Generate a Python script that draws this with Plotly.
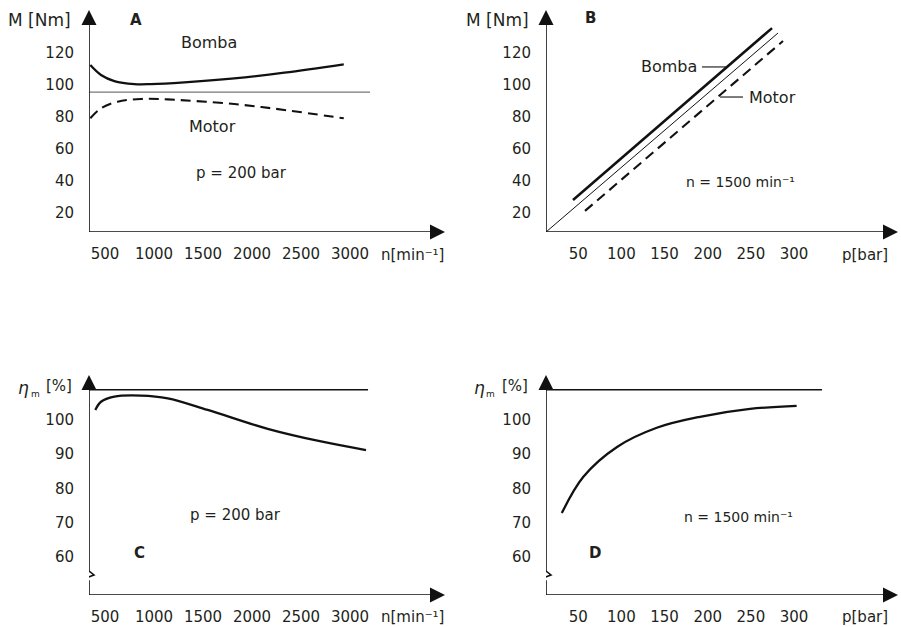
import plotly.graph_objects as go

W, H = 901, 627
FONT = "DejaVu Sans"
TXT = "#231f20"

# ---------------- data ----------------
# Panel A: torque vs speed at p = 200 bar
nA_bomba = [350, 459, 595, 799, 969, 1309, 1819, 2330, 2936]
mA_bomba = [112.5, 106.3, 102.5, 100.6, 100.6, 101.7, 104.2, 107.7, 112.9]
nA_motor = [350, 459, 629, 867, 1140, 1819, 2330, 2936]
mA_motor = [79.2, 85.4, 89.6, 91.3, 91.0, 88.1, 84.4, 79.2]
nA_ref = [337, 3204]
mA_ref = [95.6, 95.6]

# Panel B: torque vs pressure at n = 1500 min-1
pB_ideal = [12.7, 281.4]
mB_ideal = [8.1, 132.5]
pB_bomba = [44.0, 274.5]
mB_bomba = [28.1, 135.6]
pB_motor = [57.9, 287.2]
mB_motor = [21.3, 127.5]

# Panel C: mechanical efficiency vs speed at p = 200 bar
nC = [401, 459, 595, 867, 1140, 1548, 2160, 2704, 3163]
etaC = [102.9, 105.3, 106.8, 107.1, 106.3, 102.9, 97.4, 93.7, 91.2]
nC_ref = [337, 3184]
etaC_ref = [108.8, 108.8]

# Panel D: mechanical efficiency vs pressure at n = 1500 min-1
pD = [31, 56, 95, 141, 191, 249, 303]
etaD = [72.8, 83.4, 92.1, 97.7, 100.9, 103.2, 104.1]
pD_ref = [12.7, 332.4]
etaD_ref = [108.8, 108.8]

n_ticks = [500, 1000, 1500, 2000, 2500, 3000]
p_ticks = [50, 100, 150, 200, 250, 300]
M_ticks = [20, 40, 60, 80, 100, 120]
eta_ticks = [60, 70, 80, 90, 100]

# axis ranges (schematic axes)
n_range = [336.7, 3969]
p_range = [12.7, 420.4]
M_range = [8.125, 146.9]
eta_range = [48.9, 113.1]

fig = go.Figure()
AX = "#111"

def line(x, y, xa, ya, width=2.2, dash="solid", color="#111", shape="spline"):
    fig.add_trace(go.Scatter(x=x, y=y, xaxis=xa, yaxis=ya, mode="lines",
                             line=dict(color=color, width=width, dash=dash, shape=shape,
                                       smoothing=1.0),
                             showlegend=False, hoverinfo="skip"))

# A
line(nA_ref, mA_ref, "x", "y", width=1.2, color="#777", shape="linear")
line(nA_bomba, mA_bomba, "x", "y", width=2.3)
line(nA_motor, mA_motor, "x", "y", width=2.1, dash="10px,6px")
# B
line(pB_ideal, mB_ideal, "x2", "y2", width=1.0, shape="linear")
line(pB_bomba, mB_bomba, "x2", "y2", width=2.5, shape="linear")
line(pB_motor, mB_motor, "x2", "y2", width=2.1, dash="10px,6px", shape="linear")
# C
line(nC_ref, etaC_ref, "x3", "y3", width=1.3, shape="linear")
line(nC, etaC, "x3", "y3", width=2.3)
# D
line(pD_ref, etaD_ref, "x4", "y4", width=1.3, shape="linear")
line(pD, etaD, "x4", "y4", width=2.3)

# arrowheads of the axes (tips sit at the range ends)
def heads(xa, ya, xr, yr):
    fig.add_trace(go.Scatter(x=[xr[0], xr[1]], y=[yr[1], yr[0]], xaxis=xa, yaxis=ya,
                             mode="markers", cliponaxis=False,
                             marker=dict(symbol=["arrow-up", "arrow-right"], size=15,
                                         color=AX, line=dict(width=0)),
                             showlegend=False, hoverinfo="skip"))

heads("x", "y", n_range, M_range)
heads("x2", "y2", p_range, M_range)
heads("x3", "y3", n_range, eta_range)
heads("x4", "y4", p_range, eta_range)

tickfont = dict(family=FONT, size=15, color=TXT)

def xax(dom, rng, anchor, ticks):
    return dict(domain=dom, range=rng, anchor=anchor, tickvals=ticks,
                ticktext=[str(t) for t in ticks], showline=False, showgrid=False,
                zeroline=False, ticks="", tickfont=tickfont, ticklabelstandoff=11)

def yax(dom, rng, anchor, ticks):
    return dict(domain=dom, range=rng, anchor=anchor, tickvals=ticks,
                ticktext=[str(t) for t in ticks], showline=False, showgrid=False,
                zeroline=False, ticks="", tickfont=tickfont, ticklabelstandoff=14)

left_dom = [89 / W, 445 / W]
right_dom = [546 / W, 898 / W]
top_dom = [1 - 232 / H, 1 - 10 / H]
bot_dom = [1 - 595 / H, 1 - 375 / H]

fig.update_layout(
    width=W, height=H, margin=dict(l=0, r=0, t=0, b=0),
    paper_bgcolor="white", plot_bgcolor="white",
    xaxis=xax(left_dom, n_range, "y", n_ticks),
    yaxis=yax(top_dom, M_range, "x", M_ticks),
    xaxis2=xax(right_dom, p_range, "y2", p_ticks),
    yaxis2=yax(top_dom, M_range, "x2", M_ticks),
    xaxis3=xax(left_dom, n_range, "y3", n_ticks),
    yaxis3=yax(bot_dom, eta_range, "x3", eta_ticks),
    xaxis4=xax(right_dom, p_range, "y4", p_ticks),
    yaxis4=yax(bot_dom, eta_range, "x4", eta_ticks),
)

shapes = []
def seg(xr, yr, x0, y0, x1, y1, w=1.6, color=AX):
    shapes.append(dict(type="line", xref=xr, yref=yr, x0=x0, y0=y0, x1=x1, y1=y1,
                       line=dict(color=color, width=w)))

# axis lines
seg("x", "y", n_range[0], M_range[0], n_range[0], M_range[1] - 5)
seg("x", "y", n_range[0], M_range[0], n_range[1] - 100, M_range[0])
seg("x2", "y2", p_range[0], M_range[0], p_range[0], M_range[1] - 5)
seg("x2", "y2", p_range[0], M_range[0], p_range[1] - 10, M_range[0])
brk = eta_range[0] + 24 / 3.425
seg("x3", "y3", n_range[0], brk, n_range[0], eta_range[1] - 2)
seg("x3", "y3", n_range[0], eta_range[0], n_range[1] - 100, eta_range[0])
seg("x4", "y4", p_range[0], brk, p_range[0], eta_range[1] - 2)
seg("x4", "y4", p_range[0], eta_range[0], p_range[1] - 10, eta_range[0])

# axis break on the efficiency axes
for xr, yr, x0 in (("x3", "y3", n_range[0]), ("x4", "y4", p_range[0])):
    shapes.append(dict(type="path", xref=xr, yref=yr, xsizemode="pixel", ysizemode="pixel",
                       xanchor=x0, yanchor=eta_range[0],
                       path="M0,0 L0,14 L-3,17 L5,20 L0,24",
                       line=dict(color=AX, width=1.6)))

ann = []
def text(xr, yr, x, y, s, size=16, bold=False, xanchor="center", italic=False):
    ann.append(dict(xref=xr, yref=yr, x=x, y=y, text=s,
                    showarrow=False, xanchor=xanchor, yanchor="middle",
                    font=dict(family=FONT, size=size, color=TXT,
                              weight=700 if bold else 400,
                              style="italic" if italic else "normal")))

# panel A texts
text("x", "y", 816, 140.6, "A", size=15, bold=True)
text("x", "y", 1561, 126.3, "Bomba", size=16)
text("x", "y", 1592, 73.8, "Motor", size=16)
text("x", "y", 1888, 45, "p = 200 bar", size=15)
# panel B texts
text("x2", "y2", 63.7, 141.9, "B", size=15, bold=True)
text("x2", "y2", 190, 111.3, "Bomba", size=16, xanchor="right")
text("x2", "y2", 245.5, 92.5, "Motor", size=16, xanchor="left")
text("x2", "y2", 237.4, 39.4, "n = 1500 min⁻¹", size=14)
seg("x2", "y2", 193.4, 111.3, 221.2, 111.3, w=1.1)
seg("x2", "y2", 214.3, 92.5, 240.9, 92.5, w=1.1)
# panel C texts
text("x3", "y3", 1827, 72.3, "p = 200 bar", size=15)
text("x3", "y3", 857, 61.2, "C", size=15, bold=True)
# panel D texts
text("x4", "y4", 235.1, 71.7, "n = 1500 min⁻¹", size=14)
text("x4", "y4", 69.5, 61.2, "D", size=15, bold=True)

# axis titles (paper coords)
def ptext(x, y, s, size=16, xanchor="right", italic=False):
    ann.append(dict(xref="paper", yref="paper", x=x / W, y=1 - y / H, text=s,
                    showarrow=False, xanchor=xanchor, yanchor="middle",
                    font=dict(family=FONT, size=size, color=TXT,
                              style="italic" if italic else "normal")))

ptext(73, 20, "M [Nm]", size=17)
ptext(531, 20, "M [Nm]", size=17)
for dx in (0, 456):
    ptext(74 + dx, 386, "[%]", size=15)
    ptext(23 + dx, 388, "η", size=17, xanchor="center", italic=True)
    ptext(35 + dx, 394, "m", size=9, xanchor="center")
ptext(446, 255, "n[min⁻¹]", size=15)
ptext(446, 617, "n[min⁻¹]", size=15)
ptext(890, 255, "p[bar]", size=15)
ptext(890, 617, "p[bar]", size=15)

fig.update_layout(annotations=ann, shapes=shapes)
fig.write_html("out.html")
